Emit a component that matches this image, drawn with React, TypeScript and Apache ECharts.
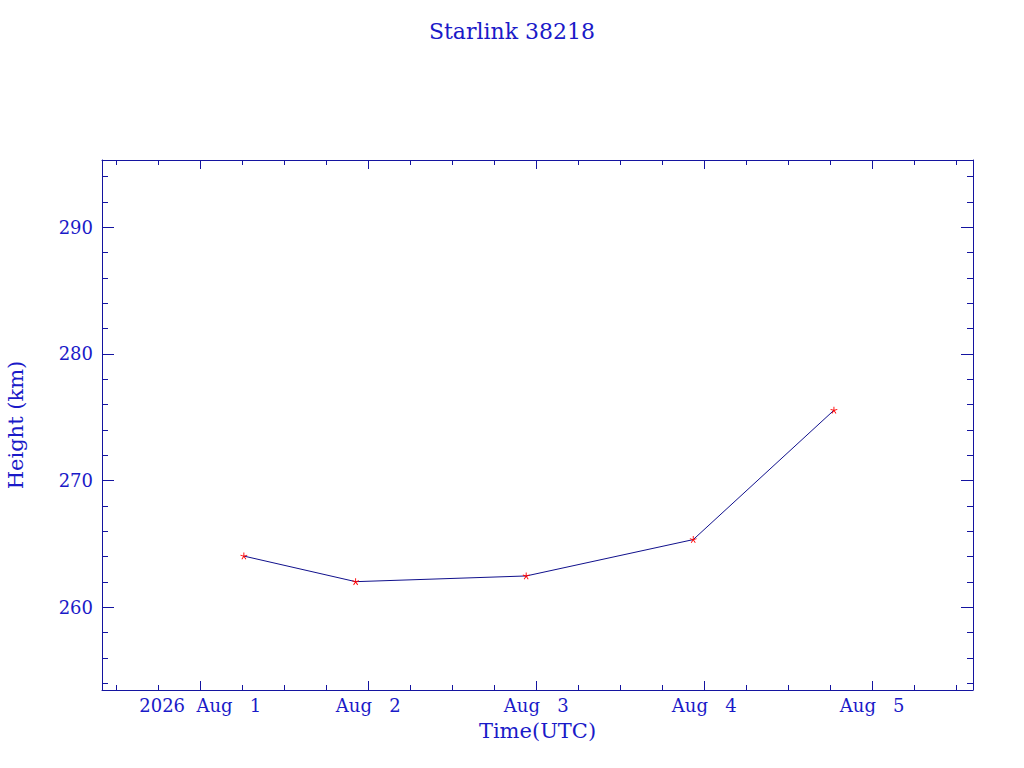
import React, { useEffect, useRef } from "react";
import * as echarts from "echarts";

const TITLE = "Starlink 38218";
const X_NAME = "Time(UTC)";
const Y_NAME = "Height (km)";

// observation epochs (UTC) and heights (km)
const times = [
  "2026-08-01T06:14:00Z",
  "2026-08-01T22:12:00Z",
  "2026-08-02T22:34:00Z",
  "2026-08-03T22:26:00Z",
  "2026-08-04T18:32:00Z",
];
const heights = [264.04, 262.02, 262.47, 265.34, 275.55];

// axis extents
const X_MIN = "2026-07-31T09:58:00Z";
const X_MAX = "2026-08-05T14:24:00Z";
const Y_MIN = 253.47;
const Y_MAX = 295.3;

// tick positions
const xMajorTicks = [
  "2026-08-01T00:00:00Z",
  "2026-08-02T00:00:00Z",
  "2026-08-03T00:00:00Z",
  "2026-08-04T00:00:00Z",
  "2026-08-05T00:00:00Z",
];
const xMinorHours = [6, 12, 18];
const yMajorTicks = [260, 270, 280, 290];
const yMinorTicks = [254, 256, 258, 262, 264, 266, 268, 272, 274, 276, 278, 282, 284, 286, 288, 292, 294];
const MONTHS = ["Jan", "Feb", "Mar", "Apr", "May", "Jun", "Jul", "Aug", "Sep", "Oct", "Nov", "Dec"];

const AXIS_COLOR = "#1414a0";
const TEXT_COLOR = "#1a1ac8";
const LINE_COLOR = "#10108c";
const FONT = "DejaVu Serif";

const STAR =
  "path://M4.5,0 L5.5,0 L5.5,3.3 L8.6,2.3 L8.9,3.2 L5.8,4.2 L7.7,6.9 L6.9,7.5 L5,4.8 L3.1,7.5 L2.3,6.9 L4.2,4.2 L1.1,3.2 L1.4,2.3 L4.5,3.3 Z";

export default function App() {
  const ref = useRef<HTMLDivElement>(null);

  useEffect(() => {
    if (!ref.current) return;
    const chart = echarts.init(ref.current, null, { renderer: "svg" });

    const xMin = Date.parse(X_MIN);
    const xMax = Date.parse(X_MAX);
    const xMajor = xMajorTicks.map((t) => Date.parse(t));
    const xMinor: number[] = [];
    const dayStart = xMajor[0] - 86400000;
    for (let d = 0; d <= xMajor.length; d++) {
      for (const h of xMinorHours) {
        const v = dayStart + d * 86400000 + h * 3600000;
        if (v > xMin && v < xMax) xMinor.push(v);
      }
    }
    const data = times.map((t, i) => [Date.parse(t), heights[i]]);

    const NB = "\u00a0";
    const fmtX = (v: number) => {
      const d = new Date(v);
      const s = MONTHS[d.getUTCMonth()] + NB + NB + NB + d.getUTCDate();
      return v === xMajor[0] ? d.getUTCFullYear() + NB + NB + s : s;
    };

    const grid = { left: 102, right: 51, top: 160, bottom: 78, containLabel: false, outerBoundsMode: "none" };

    const xBase = (gridIndex: number, position: string, showLine: boolean) => ({
      type: "value",
      gridIndex,
      position,
      min: xMin,
      max: xMax,
      splitLine: { show: false },
      axisLine: { show: showLine, onZero: false, lineStyle: { color: AXIS_COLOR, width: 1 } },
    });
    const yBase = (gridIndex: number, position: string, showLine: boolean) => ({
      type: "value",
      gridIndex,
      position,
      min: Y_MIN,
      max: Y_MAX,
      splitLine: { show: false },
      axisLine: { show: showLine, onZero: false, lineStyle: { color: AXIS_COLOR, width: 1 } },
    });

    chart.setOption({
      animation: false,
      backgroundColor: "#ffffff",
      title: {
        text: TITLE,
        left: "center",
        top: 15,
        textStyle: { color: TEXT_COLOR, fontFamily: FONT, fontSize: 22, fontWeight: "normal" },
      },
      grid: [grid, grid],
      xAxis: [
        {
          ...xBase(0, "bottom", true),
          name: X_NAME,
          nameLocation: "middle",
          nameGap: 30,
          nameTextStyle: { color: TEXT_COLOR, fontFamily: FONT, fontSize: 21 },
          axisTick: { show: true, inside: true, length: 9, customValues: xMajor, lineStyle: { color: AXIS_COLOR } },
          axisLabel: {
            show: true,
            customValues: xMajor,
            formatter: fmtX,
            margin: 6,
            color: TEXT_COLOR,
            fontFamily: FONT,
            fontSize: 18,
          },
        },
        {
          ...xBase(0, "top", true),
          axisTick: { show: true, inside: true, length: 9, customValues: xMajor, lineStyle: { color: AXIS_COLOR } },
          axisLabel: { show: false },
        },
        {
          ...xBase(1, "bottom", false),
          axisTick: { show: true, inside: true, length: 5, customValues: xMinor, lineStyle: { color: AXIS_COLOR } },
          axisLabel: { show: false },
        },
        {
          ...xBase(1, "top", false),
          axisTick: { show: true, inside: true, length: 5, customValues: xMinor, lineStyle: { color: AXIS_COLOR } },
          axisLabel: { show: false },
        },
      ],
      yAxis: [
        {
          ...yBase(0, "left", true),
          name: Y_NAME,
          nameLocation: "middle",
          nameGap: 76,
          nameTextStyle: { color: TEXT_COLOR, fontFamily: FONT, fontSize: 21 },
          axisTick: { show: true, inside: true, length: 12, customValues: yMajorTicks, lineStyle: { color: AXIS_COLOR } },
          axisLabel: {
            show: true,
            customValues: yMajorTicks,
            margin: 9,
            color: TEXT_COLOR,
            fontFamily: FONT,
            fontSize: 18,
          },
        },
        {
          ...yBase(0, "right", true),
          axisTick: { show: true, inside: true, length: 12, customValues: yMajorTicks, lineStyle: { color: AXIS_COLOR } },
          axisLabel: { show: false },
        },
        {
          ...yBase(1, "left", false),
          axisTick: { show: true, inside: true, length: 6, customValues: yMinorTicks, lineStyle: { color: AXIS_COLOR } },
          axisLabel: { show: false },
        },
        {
          ...yBase(1, "right", false),
          axisTick: { show: true, inside: true, length: 6, customValues: yMinorTicks, lineStyle: { color: AXIS_COLOR } },
          axisLabel: { show: false },
        },
      ],
      series: [
        {
          type: "line",
          xAxisIndex: 0,
          yAxisIndex: 0,
          data,
          symbol: STAR,
          symbolSize: 7,
          showAllSymbol: true,
          itemStyle: { color: "#ff0000" },
          lineStyle: { color: LINE_COLOR, width: 1 },
          z: 3,
        },
      ],
    });

    return () => chart.dispose();
  }, []);

  return (
    <div
      ref={ref}
      style={{ position: "fixed", left: 0, top: 0, width: 1024, height: 768, background: "#fff" }}
    />
  );
}
